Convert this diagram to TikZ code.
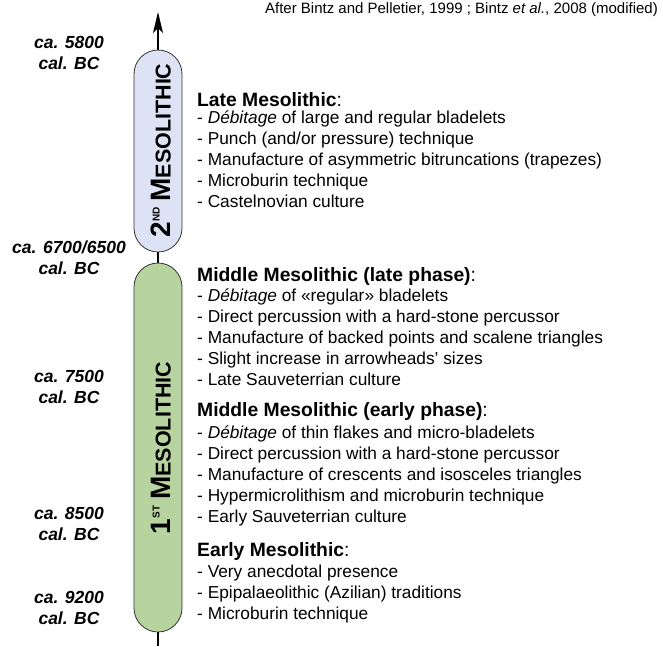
\documentclass[tikz,border=0pt]{standalone}
\usepackage{fontspec}
\setmainfont{Liberation Sans}
\usepackage{xcolor}
\usepackage{tikz}
\usetikzlibrary{arrows.meta}
\usetikzlibrary{positioning}

\definecolor{lateblue}{RGB}{221,227,244}
\definecolor{earlygreen}{RGB}{182,211,160}

\newcommand{\epochname}[2]{{\fontsize{28}{28}\selectfont #1}\raisebox{11pt}{\fontsize{10}{10}\selectfont #2}\hspace{6pt}{\fontsize{28}{28}\selectfont M}{\fontsize{21.5}{21.5}\selectfont ESOLITHIC}}

\begin{document}
\begin{tikzpicture}[x=1pt,y=-1pt,
	period/.style={draw=black!80,line width=0.8pt,rounded corners=24pt,minimum width=48pt,inner sep=0pt},
	epoch/.style={rotate=90,inner sep=0pt,font=\bfseries},
	date/.style={anchor=base,font=\fontsize{17.5}{17.5}\selectfont\bfseries\itshape},
	head/.style={anchor=base west,inner sep=0pt,font=\fontsize{19.3}{19.3}\selectfont\bfseries},
	item/.style={anchor=base west,inner sep=0pt,font=\fontsize{17.3}{17.3}\selectfont}]
	\useasboundingbox (0,0) rectangle (663,646);
	% time axis
	\coordinate (axis start) at (158,646);
	\coordinate (axis end) at (158,12);
	\draw [line width=1.3pt,-{Stealth[length=21pt,width=10pt,inset=5pt]}] (axis start) -- (axis end);
	% periods
	\node[period,fill=lateblue,minimum height=202pt] (second) at (158,151) {};
	\node[epoch] (second label) at (161,150.5) {\epochname{2}{ND}};
	\node[period,fill=earlygreen,minimum height=369pt] (first) at (158,447.5) {};
	\node[epoch] (first label) at (161,448) {\epochname{1}{ST}};
	% dates
	\foreach \yr/\yy [count=\i] in {5800/48.5,{6700/6500}/253,7500/382.5,8500/519,9200/603}{
		\node[date] (date-\i) at (69,\yy) {ca. \yr};
		\node[date] (cal-\i) at (69,\yy+21) {cal. BC};
	}
	\node[anchor=base east,inner sep=0pt,font=\fontsize{15}{15}\selectfont] (source) at (658,13) {After Bintz and Pelletier, 1999 ; Bintz \textit{et al.}, 2008 (modified)};
	% late mesolithic
	\node[head] (late) at (197,106) {Late Mesolithic\textmd{:}};
	\foreach \t [count=\i] in {\textit{Débitage} of large and regular bladelets,Punch (and/or pressure) technique,Manufacture of asymmetric bitruncations (trapezes),Microburin technique,Castelnovian culture}
	\node[item] (late-\i) at (197,102+21*\i) {- \t};
	% middle mesolithic, late phase
	\node[head] (midlate) at (197,281) {Middle Mesolithic (late phase)\textmd{:}};
	\foreach \t [count=\i] in {\textit{Débitage} of «regular» bladelets,Direct percussion with a hard-stone percussor,Manufacture of backed points and scalene triangles,Slight increase in arrowheads’ sizes,Late Sauveterrian culture}
	\node[item] (midlate-\i) at (197,280.7+21*\i) {- \t};
	% middle mesolithic, early phase
	\node[head] (midearly) at (197,416.7) {Middle Mesolithic (early phase)\textmd{:}};
	\foreach \t [count=\i] in {\textit{Débitage} of thin flakes and micro-bladelets,Direct percussion with a hard-stone percussor,Manufacture of crescents and isosceles triangles,Hypermicrolithism and microburin technique,Early Sauveterrian culture}
	\node[item] (midearly-\i) at (197,417.3+21*\i) {- \t};
	% early mesolithic
	\node[head] (early) at (197,556.7) {Early Mesolithic\textmd{:}};
	\foreach \t [count=\i] in {Very anecdotal presence,Epipalaeolithic (Azilian) traditions,Microburin technique}
	\node[item] (early-\i) at (197,556.7+21*\i) {- \t};
\end{tikzpicture}
\end{document}
